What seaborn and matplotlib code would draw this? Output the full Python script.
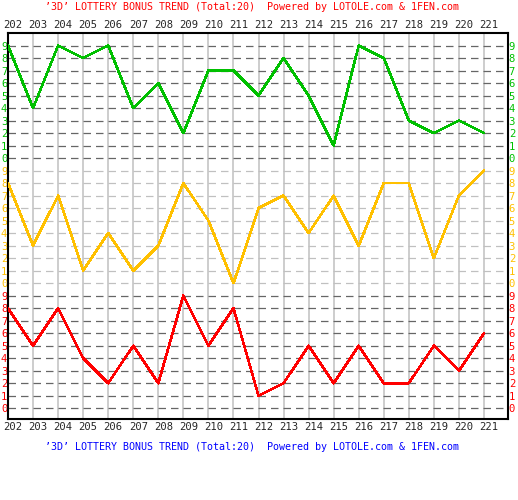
import numpy as np
import pandas as pd
import seaborn as sns
import matplotlib.pyplot as plt
from matplotlib.transforms import ScaledTranslation

# draw numbers 202..221, one digit per position
issues = list(range(202, 222))
hundreds = [9, 4, 9, 8, 9, 4, 6, 2, 7, 7, 5, 8, 5, 1, 9, 8, 3, 2, 3, 2]
tens = [8, 3, 7, 1, 4, 1, 3, 8, 5, 0, 6, 7, 4, 7, 3, 8, 8, 2, 7, 9]
units = [8, 5, 8, 4, 2, 5, 2, 9, 5, 8, 1, 2, 5, 2, 5, 2, 2, 5, 3, 6]

title_text = "’3D’ LOTTERY BONUS TREND (Total:20)  Powered by LOTOLE.com & 1FEN.com"

# band order bottom -> top: units (red), tens (yellow), hundreds (green)
bands = [('units', units, '#ff0000', '#666666'),
         ('tens', tens, '#ffc000', '#c0c0c0'),
         ('hundreds', hundreds, '#00c000', '#666666')]

sns.set_style("white")
plt.rcParams['font.family'] = ['DejaVu Sans Mono']

fig = plt.figure(figsize=(5.18, 5.00), dpi=100)
ax = fig.add_axes([8 / 518, 1 - 419 / 500, 500 / 518, 386 / 500])

for i, (name, vals, col, gcol) in enumerate(bands):
    df = pd.DataFrame({'issue': issues, 'val': np.array(vals) + 10 * i})
    sns.lineplot(data=df, x='issue', y='val', color=col, lw=1.15, ax=ax,
                 zorder=5, antialiased=False)

ax.set_xlim(202, 221.96)
ax.set_ylim(-0.86, 30)
ax.set_xlabel('')
ax.set_ylabel('')

ax.set_xticks(issues)
ax.set_xticklabels([str(v) for v in issues])
ax.set_yticks(range(30))
ax.set_yticklabels([str(v % 10) for v in range(30)])

ax.tick_params(axis='x', length=0, labelsize=7.6, labeltop=True, labelbottom=True, pad=2)
ax.tick_params(axis='y', length=0, labelsize=7.6, labelleft=True, labelright=True, pad=0.5)

ax.grid(axis='x', color='#c0c0c0', lw=1.1, ls='-')
ax.grid(axis='y', color='#666666', lw=0.9, ls=(0, (6, 4)))
ax.set_axisbelow(True)

# labels sit a few pixels right of their grid line in the original
shift = ScaledTranslation(5 / 100, 0, fig.dpi_scale_trans)
for tick in ax.xaxis.get_major_ticks():
    tick.label1.set_transform(tick.label1.get_transform() + shift)
    tick.label2.set_transform(tick.label2.get_transform() + shift)

for k, tick in enumerate(ax.yaxis.get_major_ticks()):
    band = bands[k // 10]
    tick.label1.set_color(band[2])
    tick.label2.set_color(band[2])
    tick.gridline.set_color(band[3])

for sp in ax.spines.values():
    sp.set_color('black')
    sp.set_linewidth(1.5)
    sp.set_visible(True)

fig.text(45 / 518, 1 - 7 / 500, title_text, color='#ff0000', fontsize=7.2,
         ha='left', va='center')
fig.text(45 / 518, 1 - 447 / 500, title_text, color='#0000ff', fontsize=7.2,
         ha='left', va='center')

fig.savefig('out.png', dpi=100, facecolor='white')
